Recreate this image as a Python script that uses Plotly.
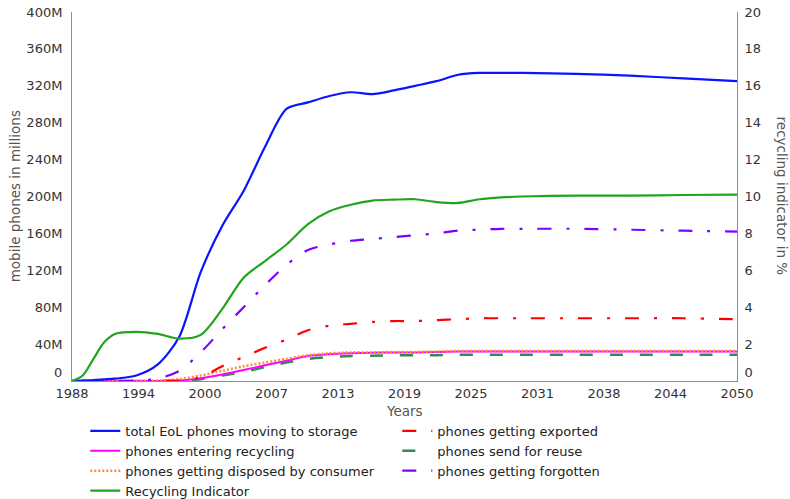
import plotly.graph_objects as go

# Years sampled for every series
years = [1988, 1989, 1990, 1991, 1992, 1994, 1996, 1998, 2000, 2002, 2004, 2006,
         2008, 2010, 2012, 2014, 2016, 2018, 2020, 2022, 2024, 2026, 2028, 2030,
         2035, 2040, 2045, 2050]

# Phone flows in millions (left axis)
to_storage = [0, 0.5, 1, 1.8, 2.5, 6, 18, 48, 118, 168, 206, 254, 295, 302, 309, 313,
              311, 315, 320, 325, 332, 334, 334, 334, 333, 331, 328, 325]
exported = [0, 0, 0, 0, 0, 0, 0, 0.5, 4, 16, 26, 36, 45, 55, 60, 62, 64, 65, 65, 66,
            67, 68, 68, 68, 68, 68, 68, 67]
entering_recycling = [0, 0, 0, 0, 0, 0, 0, 0.5, 3, 7, 12, 17, 22, 27, 29, 30, 30.5, 31,
                      31, 31.5, 32, 32, 32, 32, 32, 32, 32, 32]
send_for_reuse = [0, 0, 0, 0, 0, 0, 0, 0.3, 2, 6, 10, 15, 20, 24, 26, 27, 27.5, 28, 28,
                  28, 28.5, 28.5, 28.5, 28.5, 28.5, 28.5, 28.5, 28.5]
disposed_by_consumer = [0, 0, 0, 0, 0, 0, 0.5, 2, 6, 11, 16, 20, 24, 28, 30, 31, 31, 31.5,
                        31.5, 32, 32.5, 32.5, 32.5, 32.5, 32.5, 32.5, 32.5, 32.5]
forgotten = [0, 0, 0, 0, 0, 0.5, 2.5, 11, 31, 56, 80, 104, 126, 142, 148, 152, 154, 156,
             158, 160, 163, 164, 165, 165, 165, 164, 163, 162]

# Recycling indicator in percent (right axis)
recycling_indicator = [0, 0.3, 1.2, 2.1, 2.55, 2.66, 2.55, 2.3, 2.5, 3.9, 5.6, 6.5, 7.4,
                       8.5, 9.2, 9.55, 9.78, 9.83, 9.85, 9.7, 9.65, 9.85, 9.95, 10.0,
                       10.05, 10.05, 10.08, 10.1]

# Axis ticks
x_tickvals = [1988 + 6.2 * i for i in range(11)]
x_ticktext = ["1988", "1994", "2000", "2007", "2013", "2019", "2025", "2031", "2038",
              "2044", "2050"]
left_tickvals = list(range(0, 401, 40))
left_ticktext = ["0"] + [f"{v}M" for v in left_tickvals[1:]]
right_tickvals = list(range(0, 21, 2))
right_ticktext = [str(v) for v in right_tickvals]

# the zero labels sit a little above the baseline so they clear the year labels
ZERO_LIFT = "<br> "
left_ticktext[0] = left_ticktext[0] + ZERO_LIFT
right_ticktext[0] = right_ticktext[0] + ZERO_LIFT

FONT = "DejaVu Sans"

series = [
    # name, values, color, dash, width, legend rank, axis
    ("phones send for reuse", send_for_reuse, "#2e8b57", "13px,17px", 2.5, 4, "y"),
    ("phones entering recycling", entering_recycling, "#ff00ff", "solid", 2, 3, "y"),
    ("phones getting disposed by consumer", disposed_by_consumer, "#ff8a3d", "2px,2px", 2.5, 5, "y"),
    ("phones getting exported", exported, "#ff0000", "14px,15px,3px,15px", 2.2, 2, "y"),
    ("phones getting forgotten", forgotten, "#8000ff", "14px,15px,3px,15px", 2.2, 6, "y"),
    ("Recycling Indicator", recycling_indicator, "#22a51e", "solid", 2.2, 7, "y2"),
    ("total EoL phones moving to storage", to_storage, "#0a14ff", "solid", 2.2, 1, "y"),
]

fig = go.Figure()
for name, vals, color, dash, width, rank, axis in series:
    fig.add_trace(go.Scatter(
        x=years, y=vals, name=name, mode="lines", yaxis=axis,
        line=dict(color=color, dash=dash, width=width, shape="spline", smoothing=0.8),
        legendrank=rank,
    ))

axis_line = dict(showgrid=False, zeroline=False, showline=True, linecolor="#8c8c8c",
                 linewidth=1, ticks="", automargin=False,
                 tickfont=dict(family=FONT, size=13, color="#333333"))

fig.update_layout(
    width=790, height=499,
    margin=dict(l=72, r=53, t=12, b=118, autoexpand=False),
    paper_bgcolor="white", plot_bgcolor="white",
    font=dict(family=FONT, size=13, color="#333333"),
    showlegend=True,
    legend=dict(
        orientation="h", x=0.02, xanchor="left", y=-0.0946, yanchor="top",
        entrywidth=267, entrywidthmode="pixels",
        font=dict(family=FONT, size=13, color="#222222"),
        traceorder="normal", itemwidth=30, tracegroupgap=0,
    ),
    xaxis=dict(range=[1988, 2050], tickvals=x_tickvals, ticktext=x_ticktext, **axis_line),
    yaxis=dict(range=[0, 400], tickvals=left_tickvals, ticktext=left_ticktext,
               ticklabelstandoff=6, **axis_line),
    yaxis2=dict(range=[0, 20], tickvals=right_tickvals, ticktext=right_ticktext,
                overlaying="y", side="right", ticklabelstandoff=4, **axis_line),
    annotations=[
        dict(text="mobile phones in millions", xref="paper", yref="paper",
             x=-0.086, y=0.5, xanchor="center", yanchor="middle", textangle=-90,
             showarrow=False, font=dict(family=FONT, size=13.5, color="#555555")),
        dict(text="recycling indicator in %", xref="paper", yref="paper",
             x=1.069, y=0.5, xanchor="center", yanchor="middle", textangle=90,
             showarrow=False, font=dict(family=FONT, size=13.5, color="#555555")),
        dict(text="Years", xref="paper", yref="paper",
             x=0.5, y=-0.081, xanchor="center", yanchor="middle", showarrow=False,
             font=dict(family=FONT, size=13.5, color="#555555")),
    ],
)

fig.write_html("out.html")
